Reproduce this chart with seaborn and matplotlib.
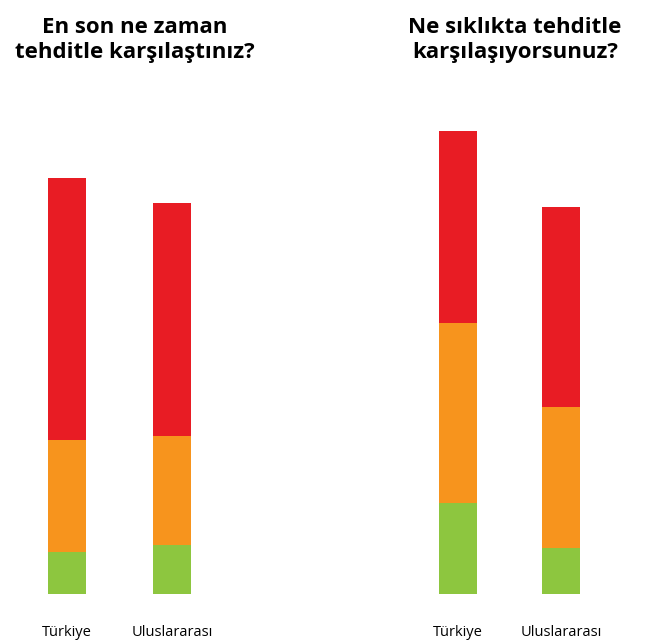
import matplotlib
matplotlib.use("Agg")
import matplotlib.pyplot as plt
import seaborn as sns
import pandas as pd

categories = ["Türkiye", "Uluslararası"]
left_green = [42, 49]
left_orange = [112, 109]
left_red = [262, 233]
right_green = [91, 46]
right_orange = [180, 141]
right_red = [192, 200]
titles = ["En son ne zaman\ntehditle karşılaştınız?", "Ne sıklıkta tehditle\nkarşılaşıyorsunuz?"]

RED, ORANGE, GREEN = "#E81C24", "#F7941D", "#8DC63F"
W, H = 647, 641
fig = plt.figure(figsize=(W/100, H/100), dpi=100)
plt.rcParams["font.family"] = "Open Sans"

def panel(left_px, width_px, g, o, r, title, tcx):
    ax = fig.add_axes([left_px/W, (H-594)/H, width_px/W, 494/H])
    df = pd.DataFrame({"cat": categories, "g": g,
                       "go": [a+b for a, b in zip(g, o)],
                       "all": [a+b+c for a, b, c in zip(g, o, r)]})
    for col, c in [("all", RED), ("go", ORANGE), ("g", GREEN)]:
        sns.barplot(data=df, x="cat", y=col, color=c, width=0.36, ax=ax,
                    saturation=1, linewidth=0)
    ax.set_xlim(-0.5, 1.5)
    ax.set_ylim(0, 494)
    ax.set_yticks([])
    ax.set_xlabel(""); ax.set_ylabel("")
    for s in ax.spines.values():
        s.set_visible(False)
    ax.tick_params(axis="x", length=0, pad=22, labelsize=10.5)
    fig.text(tcx/W, 1-40/H, title, ha="center", va="center",
             fontsize=16, fontweight="bold", linespacing=1.25)

panel(14.5, 210, left_green, left_orange, left_red, titles[0], 135)
panel(406.5, 206, right_green, right_orange, right_red, titles[1], 515)
fig.savefig("out.png", dpi=100, facecolor="white")
